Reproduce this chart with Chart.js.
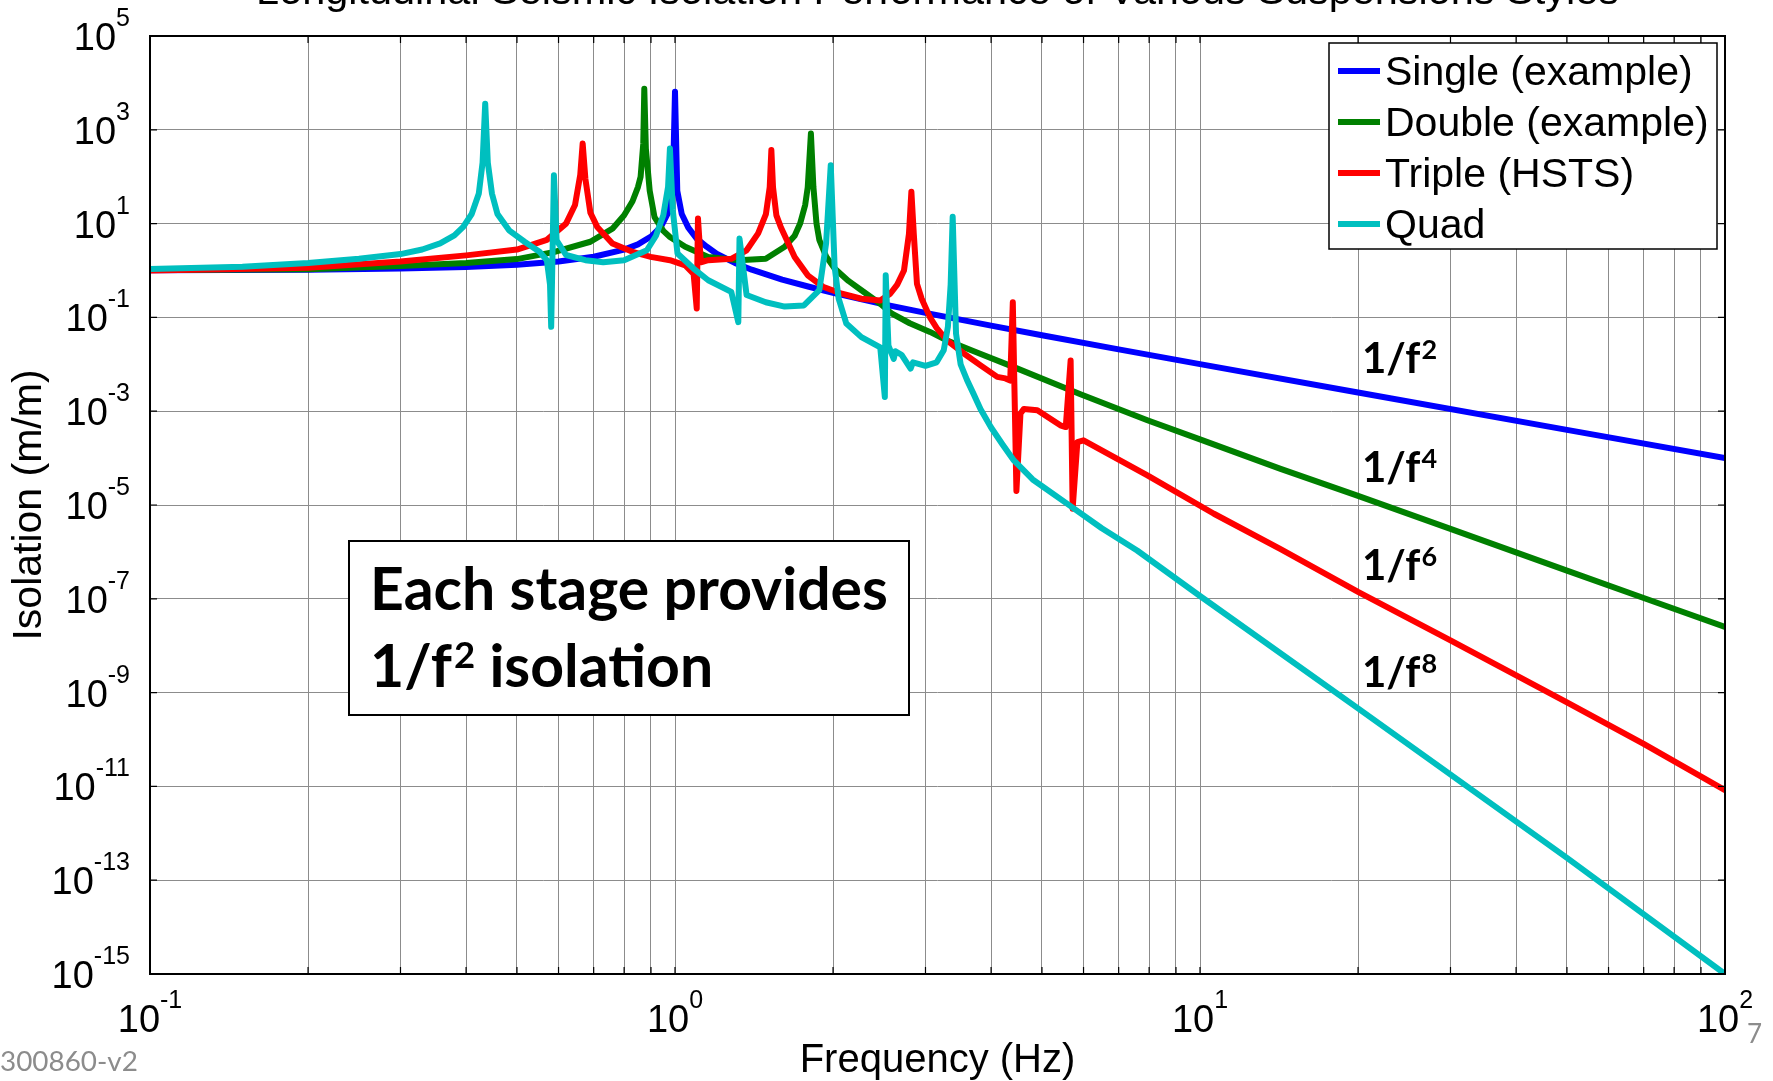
<!DOCTYPE html>
<html><head><meta charset="utf-8">
<script src="https://cdn.jsdelivr.net/npm/chart.js@4.4.1/dist/chart.umd.min.js"></script>
<style>html,body{margin:0;padding:0;background:#fff;overflow:hidden}canvas{display:block}</style>
</head><body>
<canvas id="c" width="1773" height="1081"></canvas>
<script>
// ---------- texts ----------
const titleText = "Longitudinal Seismic Isolation Performance of Various Suspensions Styles";
const xAxisLabel = "Frequency (Hz)";
const yAxisLabel = "Isolation (m/m)";
const seriesNames = ["Single (example)", "Double (example)", "Triple (HSTS)", "Quad"];
const seriesColors = ["#0000ff", "#008000", "#ff0000", "#00bfbf"];
const slopeExponents = ["2", "4", "6", "8"];
const noteLine1 = "Each stage provides";
const noteLine2a = "1/f";
const noteLine2sup = "2";
const noteLine2b = " isolation";
const docId = "300860-v2";
const pageNo = "7";

// ---------- ticks ----------
const xTickValues = [0.1,0.2,0.3,0.4,0.5,0.6,0.7,0.8,0.9,1,2,3,4,5,6,7,8,9,10,20,30,40,50,60,70,80,90,100];
const xLabelExps = [-1, 0, 1, 2];
const yLabelExps = [5, 3, 1, -1, -3, -5, -7, -9, -11, -13, -15];

// ---------- data ----------
const singleF = [0.1,0.2,0.3,0.4,0.5,0.6,0.7,0.8,0.85,0.9,0.94,0.97,0.99,1.0,1.01,1.03,1.06,1.1,1.15,1.2,1.3,1.4,1.6,1.8,2,2.5,3,4,5,7,10,20,50,100];
const singleY = [1.01,1.04,1.1,1.19,1.33,1.56,1.96,2.78,3.6,5.3,8.5,17,50,6500,50,16,8.2,4.8,3.2,2.27,1.45,1.04,0.64,0.45,0.333,0.19,0.125,0.0667,0.0417,0.0208,0.0101,0.0025,4.0e-4,1.0e-4];

const doubleF = [0.1,0.2,0.3,0.4,0.5,0.59,0.69,0.76,0.8,0.83,0.85,0.86,0.87,0.874,0.88,0.895,0.914,0.95,0.978,1.046,1.157,1.323,1.489,1.618,1.69,1.731,1.77,1.79,1.815,1.835,1.86,1.883,1.94,2.014,2.14,2.265,2.46,2.59,2.8,3.06,3.3,3.75,4.42,5.92,7.94,10,14.24,20,30,50,70,100];
const doubleY = [1.02,1.06,1.25,1.45,1.75,2.5,4.1,7.8,15,30,60,100,500,7500,400,50,13.8,7,5.2,3.2,1.95,1.66,1.78,3.2,5.5,10,25,60,830,60,10,4.5,2.0,1.1,0.6,0.38,0.195,0.12,0.075,0.049,0.032,0.018,0.0087,2.3e-3,6.4e-4,2.5e-4,5.9e-5,1.56e-5,3.1e-6,4.0e-7,1.04e-7,2.5e-8];

const tripleF = [0.1,0.2,0.3,0.4,0.5,0.57,0.62,0.645,0.66,0.667,0.675,0.69,0.711,0.76,0.83,0.899,0.978,1.046,1.085,1.1,1.106,1.12,1.157,1.28,1.369,1.44,1.49,1.515,1.526,1.537,1.56,1.59,1.69,1.79,1.914,2.08,2.265,2.46,2.57,2.65,2.73,2.79,2.82,2.85,2.89,2.95,3.06,3.15,3.3,3.55,3.82,4.11,4.26,4.35,4.4,4.47,4.55,4.62,4.9,5.42,5.55,5.67,5.72,5.84,6.0,7.94,10.63,14.24,20,30,50,70,100];
const tripleY = [1.0,1.15,1.55,2.1,2.8,4.5,10,25,110,510,90,17,8.5,3.76,2.5,1.95,1.66,1.29,0.85,0.155,12.9,1.5,1.66,1.78,2.7,6.2,16,60,370,60,15,8.5,1.95,0.79,0.45,0.32,0.25,0.23,0.32,0.5,1.0,6,48,6,0.52,0.25,0.10,0.06,0.032,0.017,0.0095,0.0054,0.005,0.0045,0.21,2.0e-5,8.9e-4,1.12e-3,1.05e-3,5.0e-4,4.6e-4,0.012,8.3e-6,2.2e-4,2.4e-4,4.3e-5,6.5e-6,1.15e-6,1.4e-7,1.3e-8,6.2e-10,8.1e-11,8.3e-12];

const quadF = [0.1,0.15,0.2,0.25,0.3,0.33,0.357,0.38,0.395,0.41,0.423,0.43,0.435,0.44,0.448,0.459,0.483,0.517,0.552,0.57,0.578,0.581,0.588,0.595,0.62,0.675,0.73,0.8,0.884,0.92,0.95,0.97,0.978,0.99,1.011,1.085,1.157,1.28,1.32,1.327,1.369,1.489,1.618,1.76,1.883,1.94,1.98,2.014,2.05,2.12,2.265,2.46,2.51,2.52,2.55,2.61,2.63,2.7,2.81,2.84,3.0,3.15,3.25,3.31,3.35,3.38,3.43,3.5,3.6,3.7,3.82,4.0,4.2,4.42,4.8,5.58,6.5,7.59,10,20,50,100];
const quadY = [1.08,1.2,1.45,1.78,2.24,2.8,3.8,5.6,8.5,16,44,200,3600,200,44,16,7.2,4.1,2.5,1.66,0.5,0.063,107,4.4,2.14,1.66,1.5,1.66,2.7,5.5,15,60,400,20,2.3,1.1,0.62,0.35,0.079,4.8,0.30,0.21,0.17,0.18,0.38,3.8,176,1.2,0.25,0.074,0.038,0.023,0.002,0.79,0.025,0.013,0.019,0.016,0.0081,0.011,0.0093,0.011,0.02,0.063,0.5,14,0.045,0.01,0.0046,0.0024,1.1e-3,4.5e-4,2.0e-4,8.9e-5,3.5e-5,1.07e-5,3.2e-6,1.07e-6,1.15e-7,4.6e-10,3.0e-13,1.0e-15];

// ---------- fonts ----------
const sansFont = '"Liberation Sans", Arial, Helvetica, sans-serif';
const boldFont = 'Lato, "Open Sans", sans-serif';

function pts(fs, vs) { return fs.map((f, i) => ({ x: f, y: vs[i] })); }

function fitFont(ctx, text, weight, family, targetW) {
  ctx.font = weight + ' 100px ' + family;
  const w = ctx.measureText(text).width;
  return 100 * targetW / w;
}

function drawPow(c, exp, x, baseY, align, baseSize, expSize) {
  c.font = baseSize + 'px ' + sansFont;
  const wb = c.measureText('10').width;
  c.font = expSize + 'px ' + sansFont;
  const es = String(exp);
  const we = c.measureText(es).width;
  const total = wb + we;
  let x0 = align === 'center' ? x - total / 2 : x - total;
  c.textAlign = 'left';
  c.textBaseline = 'alphabetic';
  c.font = baseSize + 'px ' + sansFont;
  c.fillText('10', x0, baseY);
  c.font = expSize + 'px ' + sansFont;
  c.fillText(es, x0 + wb, baseY - 24);
}

const decor = {
  id: 'decor',
  beforeDraw(chart) {
    const c = chart.ctx;
    c.save(); c.fillStyle = '#fff'; c.fillRect(0, 0, chart.width, chart.height); c.restore();
  },
  afterDraw(chart) {
    const c = chart.ctx, a = chart.chartArea, xs = chart.scales.x, ys = chart.scales.y;
    c.save();
    c.fillStyle = '#000';
    c.strokeStyle = '#000';
    // frame
    c.lineWidth = 2;
    c.strokeRect(a.left, a.top, a.right - a.left, a.bottom - a.top);
    // inward ticks
    c.lineWidth = 1.2;
    c.beginPath();
    xTickValues.forEach(v => {
      const px = xs.getPixelForValue(v);
      c.moveTo(px, a.bottom); c.lineTo(px, a.bottom - 7);
      c.moveTo(px, a.top); c.lineTo(px, a.top + 7);
    });
    yLabelExps.forEach(e => {
      const py = ys.getPixelForValue(Math.pow(10, e));
      c.moveTo(a.left, py); c.lineTo(a.left + 7, py);
      c.moveTo(a.right, py); c.lineTo(a.right - 7, py);
    });
    c.stroke();

    // tick labels
    xLabelExps.forEach(e => {
      drawPow(c, e, xs.getPixelForValue(Math.pow(10, e)), a.bottom + 58, 'center', 38, 25);
    });
    yLabelExps.forEach(e => {
      drawPow(c, e, 130, ys.getPixelForValue(Math.pow(10, e)) + 14, 'right', 38, 25);
    });

    // axis titles
    c.font = '40px ' + sansFont;
    c.textAlign = 'center'; c.textBaseline = 'alphabetic';
    c.fillText(xAxisLabel, (a.left + a.right) / 2, 1072);
    c.save();
    c.translate(41, (a.top + a.bottom) / 2);
    c.rotate(-Math.PI / 2);
    c.font = '41px ' + sansFont;
    c.fillText(yAxisLabel, 0, 0);
    c.restore();

    // title (cut off at top)
    const ts = fitFont(c, titleText, 'normal', sansFont, 1363);
    c.font = ts + 'px ' + sansFont;
    c.textAlign = 'center';
    c.fillText(titleText, (a.left + a.right) / 2, 4);

    // legend
    const lx = 1329, ly = 43, lw = 388, lh = 206;
    c.fillStyle = '#fff';
    c.fillRect(lx, ly, lw, lh);
    c.lineWidth = 1.5; c.strokeStyle = '#000';
    c.strokeRect(lx, ly, lw, lh);
    c.font = '41px ' + sansFont;
    c.textAlign = 'left';
    seriesNames.forEach((n, i) => {
      const yy = 71 + i * 51;
      c.strokeStyle = seriesColors[i]; c.lineWidth = 6;
      c.beginPath(); c.moveTo(1338, yy); c.lineTo(1380, yy); c.stroke();
      c.fillStyle = '#000';
      c.fillText(n, 1385, yy + 14);
    });

    // slope labels
    const slopeY = [373, 482, 580, 687];
    slopeExponents.forEach((e, i) => {
      c.fillStyle = '#000';
      c.font = 'bold 42px ' + boldFont;
      c.textAlign = 'left';
      c.fillText('1/f', 1362, slopeY[i]);
      const w = c.measureText('1/f').width;
      c.font = 'bold 27px ' + boldFont;
      c.fillText(e, 1362 + w + 1, slopeY[i] - 14);
    });

    // note box
    c.fillStyle = '#fff';
    c.fillRect(349, 541, 560, 174);
    c.lineWidth = 2; c.strokeStyle = '#000';
    c.strokeRect(349, 541, 560, 174);
    const ns = fitFont(c, noteLine1, 'bold', boldFont, 518);
    c.fillStyle = '#000';
    c.font = 'bold ' + ns + 'px ' + boldFont;
    c.fillText(noteLine1, 370, 610);
    c.fillText(noteLine2a, 370, 687);
    const w2 = c.measureText(noteLine2a).width;
    c.font = 'bold ' + (ns * 0.62) + 'px ' + boldFont;
    c.fillText(noteLine2sup, 370 + w2 + 2, 687 - ns * 0.33);
    const w3 = c.measureText(noteLine2sup).width;
    c.font = 'bold ' + ns + 'px ' + boldFont;
    c.fillText(noteLine2b, 370 + w2 + 2 + w3, 687);

    // footer marks
    c.fillStyle = '#8c8c8c';
    const ds = fitFont(c, docId, 'normal', boldFont, 138);
    c.font = ds + 'px ' + boldFont;
    c.fillText(docId, 0, 1071);
    c.font = '26px ' + boldFont;
    c.fillText(pageNo, 1747, 1043);
    c.restore();
  }
};

const gridCfg = { color: '#8c8c8c', lineWidth: 1, drawTicks: false };
const lineW = 6;

new Chart(document.getElementById('c').getContext('2d'), {
  type: 'scatter',
  data: {
    datasets: [
      { label: seriesNames[0], data: pts(singleF, singleY), borderColor: seriesColors[0], backgroundColor: seriesColors[0], borderWidth: lineW, showLine: true, order: 4 },
      { label: seriesNames[1], data: pts(doubleF, doubleY), borderColor: seriesColors[1], backgroundColor: seriesColors[1], borderWidth: lineW, showLine: true, order: 3 },
      { label: seriesNames[2], data: pts(tripleF, tripleY), borderColor: seriesColors[2], backgroundColor: seriesColors[2], borderWidth: lineW, showLine: true, order: 2 },
      { label: seriesNames[3], data: pts(quadF, quadY), borderColor: seriesColors[3], backgroundColor: seriesColors[3], borderWidth: lineW, showLine: true, order: 1 }
    ]
  },
  options: {
    responsive: false,
    animation: false,
    devicePixelRatio: 1,
    events: [],
    layout: { padding: { left: 150, right: 48, top: 36, bottom: 107 } },
    elements: {
      point: { radius: 0, hoverRadius: 0 },
      line: { borderWidth: lineW, tension: 0, borderCapStyle: 'round', borderJoinStyle: 'round', fill: false }
    },
    plugins: { legend: { display: false }, tooltip: { enabled: false }, title: { display: false } },
    scales: {
      x: {
        type: 'logarithmic', min: 0.1, max: 100,
        afterBuildTicks: s => { s.ticks = xTickValues.map(v => ({ value: v })); },
        ticks: { display: false }, grid: gridCfg, border: { display: false }
      },
      y: {
        type: 'logarithmic', min: 1e-15, max: 1e5,
        afterBuildTicks: s => { s.ticks = yLabelExps.map(e => ({ value: Math.pow(10, e) })); },
        ticks: { display: false }, grid: gridCfg, border: { display: false }
      }
    }
  },
  plugins: [decor]
});
</script>
</body></html>
